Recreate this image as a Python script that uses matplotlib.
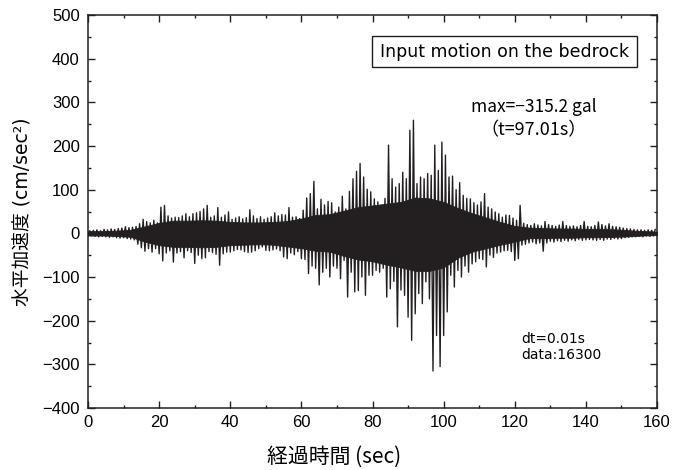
import numpy as np
import matplotlib
matplotlib.use("Agg")
import matplotlib.pyplot as plt
from matplotlib.patches import Rectangle

# Per-second acceleration peaks (gal): positive and negative extremes in each 1 s window
peak_pos = [
    6, 7, 8, 6, 9, 8, 10, 9, 11, 12,
    15, 13, 14, 16, 22, 32, 27, 24, 30, 24,
    60, 64, 40, 35, 37, 36, 40, 45, 38, 45,
    47, 50, 56, 64, 37, 40, 59, 37, 42, 49,
    32, 35, 38, 33, 36, 54, 40, 34, 38, 32,
    35, 38, 47, 40, 43, 42, 59, 37, 38, 34,
    53, 81, 91, 119, 56, 78, 65, 73, 70, 49,
    60, 85, 56, 96, 125, 142, 160, 129, 101, 95,
    79, 72, 64, 80, 202, 125, 106, 114, 140, 125,
    236, 259, 114, 129, 125, 137, 133, 202, 144, 209,
    179, 129, 131, 100, 116, 87, 80, 79, 70, 65,
    72, 91, 60, 56, 49, 45, 37, 42, 41, 35,
    30, 64, 23, 20, 18, 22, 19, 17, 27, 20,
    18, 16, 19, 27, 18, 16, 17, 15, 18, 27,
    16, 15, 18, 26, 20, 17, 22, 16, 15, 14,
    12, 11, 10, 9, 8, 8, 7, 8, 7, 9,
]
peak_neg = [
    -6, -6, -7, -8, -7, -8, -9, -8, -10, -11,
    -10, -12, -13, -15, -25, -33, -41, -35, -43, -35,
    -47, -63, -45, -40, -66, -45, -42, -56, -40, -44,
    -69, -50, -58, -56, -42, -44, -48, -73, -47, -43,
    -43, -40, -37, -38, -42, -44, -43, -40, -35, -31,
    -39, -40, -38, -36, -40, -54, -58, -45, -49, -42,
    -58, -60, -92, -75, -80, -118, -89, -80, -100, -75,
    -80, -104, -62, -146, -89, -134, -131, -100, -142, -96,
    -96, -85, -89, -80, -146, -127, -110, -214, -130, -142,
    -192, -245, -184, -138, -161, -111, -150, -315.2, -234, -305,
    -234, -180, -96, -123, -85, -100, -75, -89, -70, -65,
    -58, -60, -77, -50, -55, -45, -43, -40, -39, -42,
    -62, -58, -27, -25, -22, -20, -24, -22, -41, -22,
    -18, -20, -17, -19, -16, -18, -15, -17, -14, -16,
    -15, -14, -15, -16, -14, -16, -13, -14, -12, -13,
    -12, -10, -9, -8, -8, -7, -8, -6, -7, -6,
]

# Dense body of the record (gal), sampled every 4 s from 0 to 160 s
core_time = np.arange(0, 161, 4)
core_pos = [5, 5, 6, 8, 16, 24, 29, 29, 30, 29,
            26, 25, 25, 26, 28, 34, 42, 44, 52, 60,
            64, 68, 72, 82, 80, 72, 58, 46, 36, 26,
            17, 13, 12, 11, 11, 10, 10, 9, 7, 5, 4]
core_neg = [-5, -5, -6, -8, -19, -27, -31, -31, -32, -31,
            -27, -26, -25, -26, -30, -34, -40, -42, -52, -60,
            -64, -72, -78, -86, -86, -78, -56, -42, -34, -26,
            -19, -11, -11, -10, -10, -9, -9, -8, -7, -5, -4]

x_ticks = [0, 20, 40, 60, 80, 100, 120, 140, 160]
y_ticks = [-400, -300, -200, -100, 0, 100, 200, 300, 400, 500]

plt.rcParams["font.family"] = ["Liberation Sans", "DejaVu Sans"]
plt.rcParams["font.size"] = 12

ink = "#231f20"

# interleave negative and positive extremes into one trace
sec = np.arange(len(peak_pos))
t = np.empty(2 * len(sec))
acc = np.empty(2 * len(sec))
t[0::2] = sec + 0.01
t[1::2] = sec + 0.51
acc[0::2] = peak_neg
acc[1::2] = peak_pos

W, H = 677, 470
fig = plt.figure(figsize=(W / 100, H / 100), dpi=100)
ax = fig.add_axes([88 / W, 1 - 408 / H, 569 / W, 393 / H])

ax.fill_between(core_time, core_neg, core_pos, color=ink, lw=0.6, ec=ink)
ax.plot(t, acc, color=ink, lw=1.0)

ax.set_xlim(0, 160)
ax.set_ylim(-400, 500)
ax.set_xticks(x_ticks)
ax.set_xticks(np.arange(0, 161, 10), minor=True)
ax.set_yticks(y_ticks)
ax.set_yticks(np.arange(-400, 501, 50), minor=True)
ax.tick_params(which="both", direction="in", top=True, right=True, width=1, color=ink)
ax.tick_params(which="major", length=5)
ax.tick_params(which="minor", length=2.5)
ax.tick_params(axis="y", pad=6)
ax.tick_params(axis="x", pad=5)
for s in ax.spines.values():
    s.set_linewidth(1.1)
    s.set_color(ink)

ax.set_xlabel("経過時間 (sec)", family=["Noto Sans CJK JP"], fontsize=15)
ax.xaxis.set_label_coords(0.432, -0.097)
ax.set_ylabel("水平加速度 (cm/sec²)", family=["DejaVu Sans", "Noto Sans CJK JP"], fontsize=13.5)
ax.yaxis.set_label_coords(-0.098, 0.5)

# title box
ax.add_patch(Rectangle((0.499, 0.868), 0.466, 0.079, transform=ax.transAxes,
                       facecolor="white", edgecolor=ink, lw=1, zorder=3))
ax.text(0.732, 0.907, "Input motion on the bedrock", transform=ax.transAxes,
        ha="center", va="center", family=["DejaVu Sans"], fontsize=12.5, zorder=4)

ax.text(0.784, 0.765, "max=−315.2 gal", transform=ax.transAxes, ha="center", va="center",
        family=["Noto Sans CJK JP"], fontsize=12.5)
ax.text(0.783, 0.706, "（t=97.01s）", transform=ax.transAxes, ha="center", va="center",
        family=["Noto Sans CJK JP"], fontsize=13)

ax.text(0.761, 0.1756, "dt=0.01s", transform=ax.transAxes, ha="left", va="center",
        family=["DejaVu Sans"], fontsize=10)
ax.text(0.761, 0.135, "data:16300", transform=ax.transAxes, ha="left", va="center",
        family=["DejaVu Sans"], fontsize=10)

fig.savefig("out.png", dpi=100)
